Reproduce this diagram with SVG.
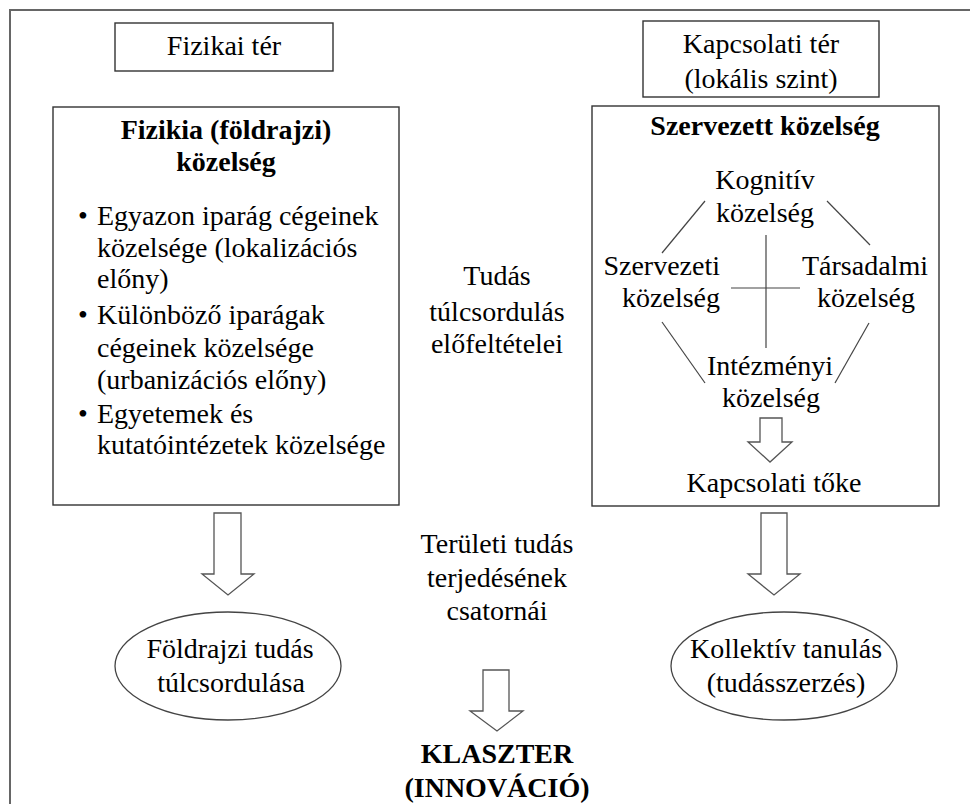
<svg xmlns="http://www.w3.org/2000/svg" width="970" height="804" viewBox="0 0 970 804" font-family="'Liberation Serif', Tinos, 'Times New Roman', 'DejaVu Serif', serif">
<style>
text{font-family:'Liberation Serif',Tinos,'Times New Roman','DejaVu Serif',serif;font-size:28px;fill:#000}
.c{text-anchor:middle}
.e{text-anchor:end}
.b{font-weight:bold}
.box{fill:#fff;stroke:#333;stroke-width:1.4}
.arr{fill:#fff;stroke:#555;stroke-width:1.3;stroke-linejoin:miter}
.ln{stroke:#444;stroke-width:1.2;fill:none}
.ell{fill:#fff;stroke:#444;stroke-width:1.3}
</style>
<rect width="970" height="804" fill="#fff"/>
<g id="frame">
<path d="M10,804 V10 H970" fill="none" stroke="#666" stroke-width="2"/>
</g>
<g id="fizikai-ter">
<rect class="box" x="115" y="23" width="218" height="48"/>
<text class="c" x="224" y="55">Fizikai tér</text>
</g>
<g id="kapcsolati-ter">
<rect class="box" x="643" y="21" width="236" height="76"/>
<text class="c" x="761" y="53">Kapcsolati tér</text>
<text class="c" x="761" y="88">(lokális szint)</text>
</g>
<g id="fizikai-kozelseg">
<rect class="box" x="53" y="107" width="346" height="398"/>
<text class="c b" x="226" y="139">Fizikia (földrajzi)</text>
<text class="c b" x="226" y="171">közelség</text>
<text x="78" y="225">•</text>
<text x="97" y="225">Egyazon iparág cégeinek</text>
<text x="97" y="257">közelsége (lokalizációs</text>
<text x="97" y="288">előny)</text>
<text x="78" y="324">•</text>
<text x="97" y="324">Különböző iparágak</text>
<text x="97" y="357">cégeinek közelsége</text>
<text x="97" y="389">(urbanizációs előny)</text>
<text x="78" y="423">•</text>
<text x="97" y="423">Egyetemek és</text>
<text x="97" y="454">kutatóintézetek közelsége</text>
</g>
<g id="szervezett-kozelseg">
<rect class="box" x="592" y="106" width="347" height="400"/>
<text class="c b" x="765" y="135">Szervezett közelség</text>
</g>
<g id="kognitiv">
<text class="c" x="765" y="189">Kognitív</text>
<text class="c" x="765" y="222">közelség</text>
</g>
<g id="szervezeti">
<text class="e" x="720" y="275">Szervezeti</text>
<text class="e" x="720" y="307">közelség</text>
</g>
<g id="tarsadalmi">
<text class="c" x="865" y="275">Társadalmi</text>
<text class="c" x="866" y="307">közelség</text>
</g>
<g id="intezmenyi">
<text class="c" x="770" y="375">Intézményi</text>
<text class="c" x="771" y="407">közelség</text>
</g>
<g id="kapcsolati-toke">
<text class="c" x="774" y="492">Kapcsolati tőke</text>
</g>
<g id="tudas-tulcsordulas">
<text class="c" x="497" y="285">Tudás</text>
<text class="c" x="497" y="321">túlcsordulás</text>
<text class="c" x="497" y="353">előfeltételei</text>
</g>
<g id="teruleti-tudas">
<text class="c" x="497" y="553">Területi tudás</text>
<text class="c" x="497" y="587">terjedésének</text>
<text class="c" x="497" y="620">csatornái</text>
</g>
<g id="foldrajzi-tudas">
<ellipse class="ell" cx="228" cy="666" rx="113" ry="54"/>
<text class="c" x="230" y="658">Földrajzi tudás</text>
<text class="c" x="231" y="692">túlcsordulása</text>
</g>
<g id="kollektiv-tanulas">
<ellipse class="ell" cx="784" cy="666" rx="113" ry="54"/>
<text class="c" x="786" y="658">Kollektív tanulás</text>
<text class="c" x="786" y="692">(tudásszerzés)</text>
</g>
<g id="klaszter">
<text class="c b" x="497" y="763">KLASZTER</text>
<text class="c b" x="497" y="797">(INNOVÁCIÓ)</text>
</g>
<g id="connectors">
<line class="ln" x1="705" y1="201" x2="662" y2="253"/>
<line class="ln" x1="827" y1="201" x2="870" y2="245"/>
<line class="ln" x1="662" y1="322" x2="705" y2="383"/>
<line class="ln" x1="869" y1="323" x2="835" y2="383"/>
<line class="ln" x1="766" y1="235" x2="766" y2="348"/>
<line class="ln" x1="731" y1="288" x2="800" y2="288"/>
<path class="arr" d="M760,418 H782 V442 H792 L770,462 L748,442 H760 Z"/>
<path class="arr" d="M214,513 H241 V574 H254 L228,595 L202,574 H214 Z"/>
<path class="arr" d="M761,513 H787 V574 H800 L774,595 L748,574 H761 Z"/>
<path class="arr" d="M483,670 H509 V711 H523 L497,731 L470,711 H483 Z"/>
</g>
</svg>
